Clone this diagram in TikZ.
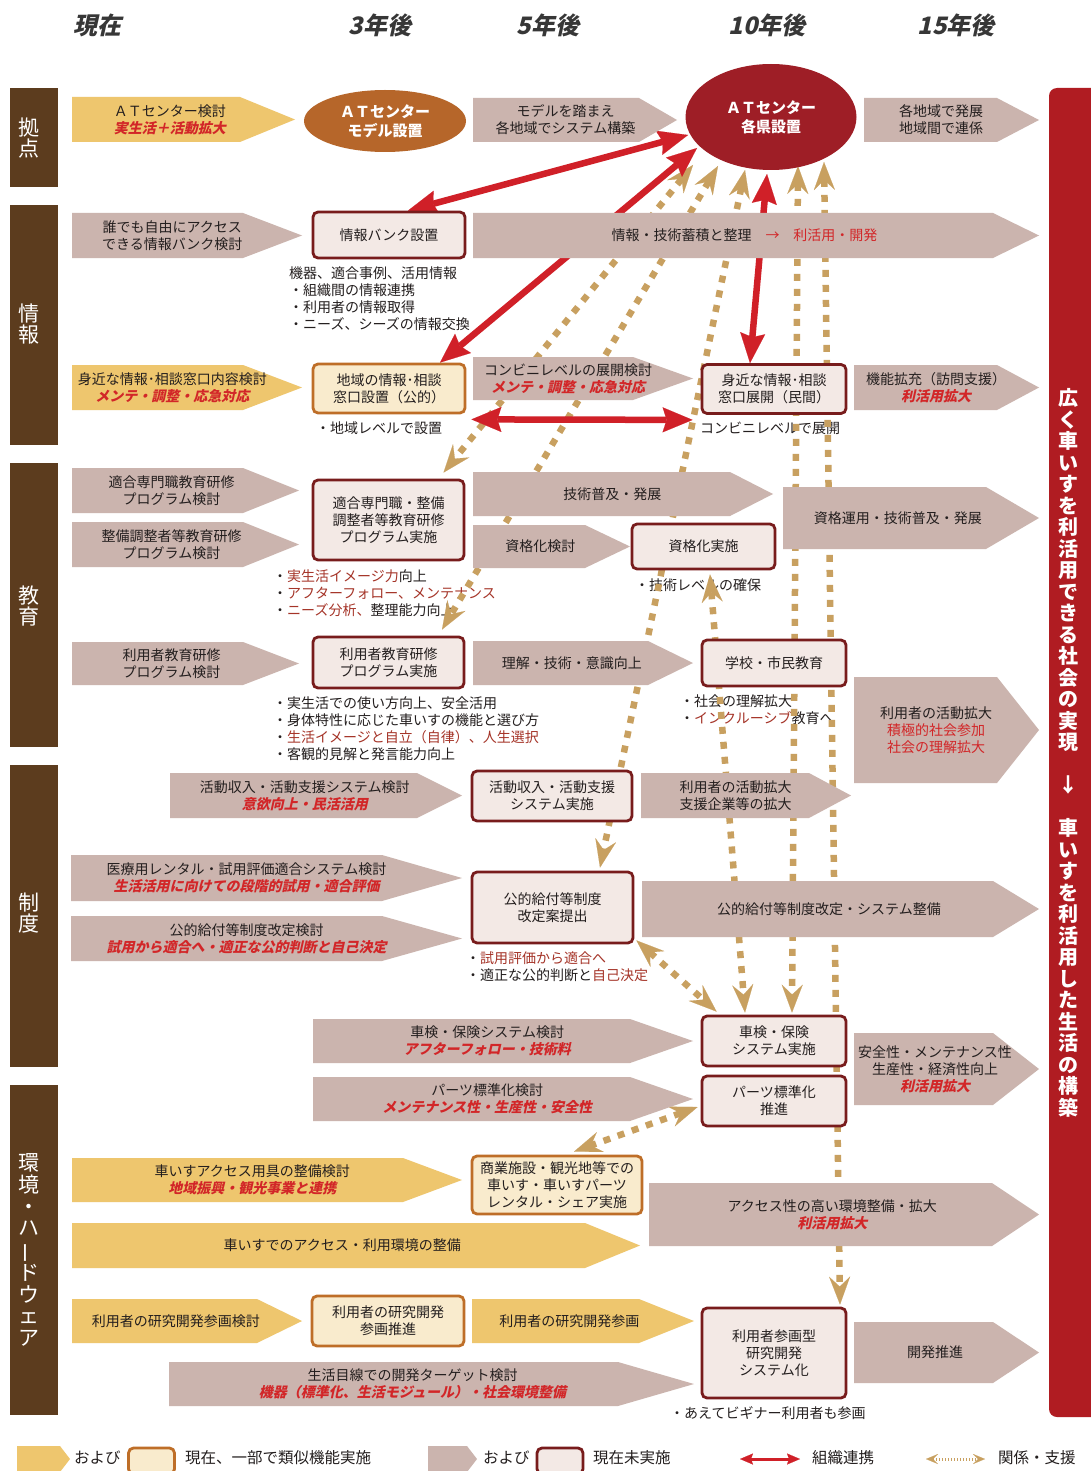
\documentclass[tikz,border=0pt]{standalone}
\usepackage{fontspec}
\usepackage{graphicx}
\setmainfont{Noto Sans CJK JP}
\newfontfamily\jpsl{Noto Sans CJK JP}[FakeSlant=0.22]
\usetikzlibrary{arrows.meta,shapes.geometric}
\pgfdeclarelayer{bg}
\pgfdeclarelayer{notes}
\pgfdeclarelayer{conn}
\pgfsetlayers{bg,notes,conn,main}
\definecolor{pinkA}{RGB}{203,180,174}
\definecolor{yelA}{RGB}{238,198,110}
\definecolor{boxP}{RGB}{243,233,229}
\definecolor{boxY}{RGB}{249,235,205}
\definecolor{brdP}{RGB}{120,28,28}
\definecolor{brdY}{RGB}{190,110,40}
\definecolor{catB}{RGB}{92,60,30}
\definecolor{ellO}{RGB}{182,102,42}
\definecolor{ellR}{RGB}{158,30,38}
\definecolor{barR}{RGB}{176,28,34}
\definecolor{redT}{RGB}{210,38,40}
\definecolor{noteR}{RGB}{165,52,40}
\definecolor{conR}{RGB}{208,32,40}
\definecolor{tanC}{RGB}{200,160,96}
\definecolor{ink}{RGB}{35,30,30}
\newcommand{\fsz}{\fontsize{14}{16.8}\selectfont}
\newcommand{\rtx}[1]{{\jpsl\bfseries\color{redT}#1}}
\newcommand{\ntx}[1]{{\color{noteR}#1}}
\newcommand{\arw}[8]{%
  \fill[#7] (#2,#3) -- ({#4-#6},#3) -- (#4,{(#3+#5)/2}) -- ({#4-#6},#5) -- (#2,#5) -- cycle;
  \node[txt] (#1) at ({(#2+#4)/2-#6/4},{(#3+#5)/2}) {#8};}
\tikzset{
  txt/.style={font=\fsz, text=ink, align=center, inner sep=0},
  pbox/.style={draw=brdP, fill=boxP, line width=2.8pt, rounded corners=5pt, font=\fsz, text=ink, align=center, inner sep=0},
  ybox/.style={pbox, draw=brdY, fill=boxY},
  note/.style={font=\fsz, text=ink, align=left, anchor=north west, inner sep=0},
  cattxt/.style={font=\fontsize{21}{21.6}\selectfont, text=white, align=center, inner sep=0},
  hdr/.style={font=\jpsl\bfseries\fontsize{24}{26}\selectfont, text={rgb,255:red,55;green,55;blue,55}, inner sep=0},
  legtxt/.style={font=\fontsize{15.5}{17}\selectfont, text=ink, inner sep=0, anchor=west},
  redarr/.style={draw=conR, line width=6.5pt, {Stealth[length=30pt,width=25pt,inset=4pt,line width=0.1pt]}-{Stealth[length=30pt,width=25pt,inset=4pt,line width=0.1pt]}},
  tanarr/.style={draw=tanC, line width=6.5pt, dash pattern=on 7pt off 8pt, {Stealth[length=28pt,width=21pt,inset=10pt,line width=0.1pt]}-{Stealth[length=28pt,width=21pt,inset=10pt,line width=0.1pt]}},
}
\begin{document}
\begin{tikzpicture}[x=1pt,y=-1pt]
\useasboundingbox (0,0) rectangle (1090,1471);
\begin{pgfonlayer}{bg}
\fill[white] (0,0) rectangle (1090,1471);
\end{pgfonlayer}
% headers
\node[hdr] (h0) at (97,25) {現在};
\node[hdr] (h3) at (380,25) {3年後};
\node[hdr] (h5) at (548,25) {5年後};
\node[hdr] (h10) at (767,25) {10年後};
\node[hdr] (h15) at (956,25) {15年後};
% category bars
\fill[catB] (10,88) rectangle (58,187);
\node[cattxt] (c1) at (29,138) {拠\\点};
\fill[catB] (10,205) rectangle (58,445);
\node[cattxt] (c2) at (29,324) {情\\報};
\fill[catB] (10,463) rectangle (58,747);
\node[cattxt] (c3) at (29,606) {教\\育};
\fill[catB] (10,765) rectangle (58,1067);
\node[cattxt] (c4) at (29,913) {制\\度};
\fill[catB] (10,1085) rectangle (58,1415);
\node[cattxt] (c5) at (29,1250) {環\\境\\・\\ハ\\\rotatebox[origin=c]{90}{ー}\\ド\\ウ\\ェ\\ア};
% right bar
\fill[barR, rounded corners=8pt] (1049,88) rectangle (1110,1417);
\node[font=\bfseries\fontsize{20}{21.5}\selectfont, text=white, align=center, inner sep=0] (goal) at (1068,753)
 {広\\く\\車\\い\\す\\を\\利\\活\\用\\で\\き\\る\\社\\会\\の\\実\\現\\\mbox{}\\↓\\\mbox{}\\車\\い\\す\\を\\利\\活\\用\\し\\た\\生\\活\\の\\構\\築};
% row: kyoten
\arw{a1}{72}{97}{295}{142}{55}{yelA}{ＡＴセンター検討\\\rtx{実生活＋活動拡大}}
\node[ellipse, fill=ellO, minimum width=162, minimum height=62, inner sep=0, text=white, font=\bfseries\fontsize{15}{19}\selectfont, align=center] (atc1) at (385,121) {ＡＴセンター\\モデル設置};
\arw{a2}{473}{98}{677}{142}{38}{pinkA}{モデルを踏まえ\\各地域でシステム構築}
\node[ellipse, fill=ellR, minimum width=171, minimum height=106, inner sep=0, text=white, font=\bfseries\fontsize{15}{19}\selectfont, align=center] (atc2) at (771,117) {ＡＴセンター\\各県設置};
\arw{a3}{864}{98}{1039}{142}{42}{pinkA}{各地域で発展\\地域間で連係}
% row: joho
\arw{a4}{72}{213}{302}{258}{59}{pinkA}{誰でも自由にアクセス\\できる情報バンク検討}
\node[pbox, minimum width=152, minimum height=46] (bank) at (389,235) {情報バンク設置};
\arw{a5}{473}{213}{1039}{258}{46}{pinkA}{情報・技術蓄積と整理\quad{\color{redT}→\quad 利活用・開発}}
\arw{a6}{72}{365}{302}{410}{59}{yelA}{身近な情報･相談窓口内容検討\\\rtx{メンテ・調整・応急対応}}
\node[ybox, minimum width=152, minimum height=49] (local) at (389,388.5) {地域の情報･相談\\窓口設置（公的）};
\arw{a7}{473}{357}{693}{400}{60}{pinkA}{コンビニレベルの展開検討\\\rtx{メンテ・調整・応急対応}}
\node[pbox, minimum width=144, minimum height=49] (near) at (774,389) {身近な情報･相談\\窓口展開（民間）};
\arw{a8}{854}{365}{1039}{410}{42}{pinkA}{機能拡充（訪問支援）\\\rtx{利活用拡大}}
% row: kyoiku
\arw{a9}{72}{468}{299}{513}{56}{pinkA}{適合専門職教育研修\\プログラム検討}
\arw{a10}{72}{522}{299}{567}{56}{pinkA}{整備調整者等教育研修\\プログラム検討}
\node[pbox, minimum width=151, minimum height=80] (tekigo) at (388.5,520) {適合専門職・整備\\調整者等教育研修\\プログラム実施};
\arw{a11}{473}{472}{773}{516}{43}{pinkA}{技術普及・発展}
\arw{a12}{473}{525}{630}{568}{45}{pinkA}{資格化検討}
\node[pbox, minimum width=143, minimum height=45] (shikaku) at (703.5,546.5) {資格化実施};
\arw{a13}{783}{487}{1039}{549}{53}{pinkA}{資格運用・技術普及・発展}
\arw{a14}{72}{642}{299}{685}{56}{pinkA}{利用者教育研修\\プログラム検討}
\node[pbox, minimum width=151, minimum height=51] (ukyo) at (388.5,662.5) {利用者教育研修\\プログラム実施};
\arw{a15}{473}{641}{693}{685}{45}{pinkA}{理解・技術・意識向上}
\node[pbox, minimum width=144, minimum height=46] (gakko) at (774,663) {学校・市民教育};
\arw{a16}{854}{677}{1039}{783}{42}{pinkA}{利用者の活動拡大\\{\color{redT}積極的社会参加}\\{\color{redT}社会の理解拡大}}
% row: seido
\arw{a17}{170}{773}{462}{818}{45}{pinkA}{活動収入・活動支援システム検討\\\rtx{意欲向上・民活活用}}
\node[pbox, minimum width=160, minimum height=50] (katsudo) at (552,796) {活動収入・活動支援\\システム実施};
\arw{a18}{641}{773}{851}{818}{42}{pinkA}{利用者の活動拡大\\支援企業等の拡大}
\arw{a19}{71}{855}{462}{901}{80}{pinkA}{医療用レンタル・試用評価適合システム検討\\\rtx{生活活用に向けての段階的試用・適合評価}}
\arw{a20}{71}{916}{462}{961}{80}{pinkA}{公的給付等制度改定検討\\\rtx{試用から適合へ・適正な公的判断と自己決定}}
\node[pbox, minimum width=161, minimum height=71] (kyufu) at (552.5,907.5) {公的給付等制度\\改定案提出};
\arw{a21}{642}{881}{1039}{937}{46}{pinkA}{公的給付等制度改定・システム整備}
\arw{a22}{313}{1019}{693}{1063}{63}{pinkA}{車検・保険システム検討\\\rtx{アフターフォロー・技術料}}
\arw{a23}{313}{1077}{693}{1121}{63}{pinkA}{パーツ標準化検討\\\rtx{メンテナンス性・生産性・安全性}}
\node[pbox, minimum width=144, minimum height=50] (shaken) at (774,1041) {車検・保険\\システム実施};
\node[pbox, minimum width=144, minimum height=50] (parts) at (774,1101) {パーツ標準化\\推進};
\arw{a24}{854}{1033}{1039}{1105}{46}{pinkA}{安全性・メンテナンス性\\生産性・経済性向上\\\rtx{利活用拡大}}
% row: kankyo
\arw{a25}{72}{1158}{462}{1202}{59}{yelA}{車いすアクセス用具の整備検討\\\rtx{地域振興・観光事業と連携}}
\node[ybox, minimum width=170, minimum height=58] (shogyo) at (557,1185) {商業施設・観光地等での\\車いす・車いすパーツ\\レンタル・シェア実施};
\arw{a26}{649}{1183}{1039}{1246}{47}{pinkA}{アクセス性の高い環境整備・拡大\\\rtx{利活用拡大}}
\arw{a27}{72}{1223}{640}{1268}{55}{yelA}{車いすでのアクセス・利用環境の整備}
\arw{a28}{72}{1299}{302}{1343}{45}{yelA}{利用者の研究開発参画検討}
\node[ybox, minimum width=152, minimum height=50] (kenkyu) at (388,1321) {利用者の研究開発\\参画推進};
\arw{a29}{472}{1299}{694}{1343}{55}{yelA}{利用者の研究開発参画}
\node[pbox, minimum width=144, minimum height=90] (sankaku) at (774,1353) {利用者参画型\\研究開発\\システム化};
\arw{a30}{854}{1322}{1039}{1383}{46}{pinkA}{開発推進}
\arw{a31}{169}{1362}{694}{1406}{76}{pinkA}{生活目線での開発ターゲット検討\\\rtx{機器（標準化、生活モジュール）・社会環境整備}}
% notes
\begin{pgfonlayer}{notes}
\node[note] (n1) at (289,266.7) {機器、適合事例、活用情報\\・組織間の情報連携\\・利用者の情報取得\\・ニーズ、シーズの情報交換};
\node[note] (n2) at (316,421.7) {・地域レベルで設置};
\node[note] (n3) at (686,421.7) {・コンビニレベルで展開};
\node[note] (n4) at (273,569.7) {・\ntx{実生活イメージ力}向上\\・\ntx{アフターフォロー、メンテナンス}\\・\ntx{ニーズ分析、}整理能力向上};
\node[note] (n5) at (635,578.7) {・技術レベルの確保};
\node[note] (n6) at (273,696.7) {・実生活での使い方向上、安全活用\\・身体特性に応じた車いすの機能と選び方\\・\ntx{生活イメージと自立（自律）、人生選択}\\・客観的見解と発言能力向上};
\node[note] (n7) at (680,694.7) {・社会の理解拡大\\・\ntx{インクルーシブ}教育へ};
\node[note] (n8) at (466,951.7) {・\ntx{試用評価から適合へ}\\・適正な公的判断と\ntx{自己決定}};
\node[note] (n9) at (670,1406.7) {・あえてビギナー利用者も参画};
\end{pgfonlayer}
% connectors
\begin{pgfonlayer}{conn}
\draw[tanarr] ([shift={(-78,48)}]atc2.center) -- ([shift={(55,-6)}]tekigo.north);
\draw[tanarr] ([shift={(-53,49)}]atc2.center) -- ([shift={(53.5,-6)}]ukyo.north);
\draw[tanarr] ([shift={(-26,53)}]atc2.center) -- ([shift={(47.5,-3)}]kyufu.north);
\draw[tanarr] ([shift={(27,49)}]atc2.center) -- ([shift={(18,-2)}]shaken.north);
\draw[tanarr] ([shift={(53,45)}]atc2.center) -- ([shift={(66,-2)}]sankaku.north);
\draw[tanarr] ([shift={(6.5,4)}]shikaku.south) -- ([shift={(-29,-2)}]shaken.north);
\draw[tanarr] ([shift={(2,-4)}]kyufu.south east) -- ([shift={(16,-3)}]shaken.north west);
\draw[tanarr] ([shift={(-3,6)}]parts.west) -- ([shift={(17,-3)}]shogyo.north);
\draw[redarr] ([xshift=19]bank.north) -- ([shift={(-83,18)}]atc2.center);
\draw[redarr] ([xshift=51]local.north) -- ([shift={(-74,31)}]atc2.center);
\draw[redarr] ([shift={(-4,57)}]atc2.center) -- ([xshift=-24]near.north);
\draw[redarr] ([shift={(5,5)}]local.south east) -- ([shift={(-8,5)}]near.south west);
\end{pgfonlayer}
% legend
\arw{lg1}{17}{1446}{70}{1472}{10}{yelA}{}
\node[legtxt] (lg1t) at (74,1458) {および};
\node[ybox, minimum width=46, minimum height=26] (lg2) at (151.5,1461) {};
\node[legtxt] (lg2t) at (185,1458) {現在、一部で類似機能実施};
\arw{lg3}{428}{1446}{477}{1472}{10}{pinkA}{}
\node[legtxt] (lg3t) at (483,1458) {および};
\node[pbox, minimum width=46, minimum height=26] (lg4) at (560,1461) {};
\node[legtxt] (lg4t) at (593,1458) {現在未実施};
\coordinate (lr1) at (740,1459);
\coordinate (lr2) at (800,1459);
\draw[conR, line width=3pt, {Stealth[length=13pt,width=11pt,inset=2pt,line width=0.1pt]}-{Stealth[length=13pt,width=11pt,inset=2pt,line width=0.1pt]}] (lr1) -- (lr2);
\node[legtxt] (lg5t) at (812,1458) {組織連携};
\coordinate (lt1) at (926,1459);
\coordinate (lt2) at (985,1459);
\draw[tanC, line width=3pt, dash pattern=on 1.5pt off 1.5pt, {Stealth[length=12pt,width=10pt,inset=5pt,line width=0.1pt]}-{Stealth[length=12pt,width=10pt,inset=5pt,line width=0.1pt]}] (lt1) -- (lt2);
\node[legtxt] (lg6t) at (998,1458) {関係・支援};
\end{tikzpicture}
\end{document}
